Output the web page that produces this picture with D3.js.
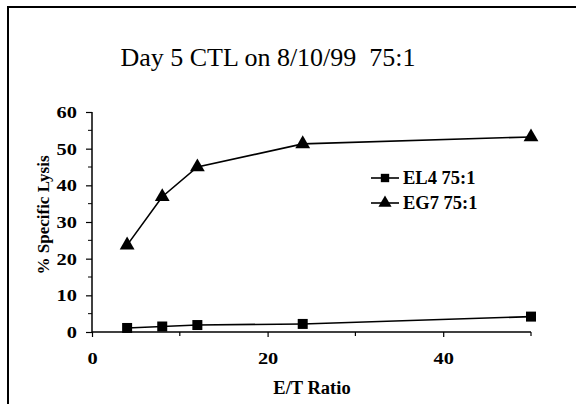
<!DOCTYPE html>
<html>
<head>
<meta charset="utf-8">
<script src="https://cdn.jsdelivr.net/npm/d3@7"></script>
<style>
  html, body { margin: 0; padding: 0; background: #fff; }
  svg { display: block; }
</style>
</head>
<body>
<svg id="chart" width="576" height="404"></svg>
<script>
const title = "Day 5 CTL on 8/10/99  75:1";
const xLabel = "E/T Ratio";
const yLabel = "% Specific Lysis";
const etRatios = [4, 8, 12, 24, 50];
const el4Values = [1.1, 1.5, 1.9, 2.2, 4.2];
const eg7Values = [23.7, 36.9, 45, 51.3, 53.2];
const seriesNames = ["EL4 75:1", "EG7 75:1"];
const xTicks = [0, 20, 40];
const xMinorTicks = [10, 30, 50];
const yTicks = [0, 10, 20, 30, 40, 50, 60];
const yMinorTicks = [5, 15, 25, 35, 45, 55];

const SERIF = "'Liberation Serif'";
const svg = d3.select("#chart");

// frame (top and left edges visible)
svg.append("line").attr("x1", 8).attr("y1", 7).attr("x2", 576).attr("y2", 7)
  .attr("stroke", "#000").attr("stroke-width", 2);
svg.append("line").attr("x1", 8).attr("y1", 6).attr("x2", 8).attr("y2", 404)
  .attr("stroke", "#000").attr("stroke-width", 2);

const x = d3.scaleLinear().domain([0, 50]).range([92, 531]);
const y = d3.scaleLinear().domain([0, 60]).range([332, 112]);

// title
svg.append("text").attr("x", 268).attr("y", 66).attr("text-anchor", "middle")
  .style("font-family", SERIF).style("font-size", "26px").style("white-space", "pre")
  .text(title);

// y axis
const yAxis = svg.append("g").attr("transform", `translate(${x(0)},0)`)
  .call(d3.axisLeft(y).tickValues(yTicks).tickSize(6).tickPadding(9).tickFormat(d3.format("d")));
yAxis.attr("font-family", null).attr("font-size", null);
yAxis.select(".domain").attr("stroke", "#000").attr("stroke-width", 1.5).attr("d", `M0,${y(60)}V${y(0)}`);
yAxis.selectAll(".tick line").attr("stroke", "#000").attr("stroke-width", 1.2);
yAxis.selectAll(".tick text").style("font-family", SERIF)
  .style("font-weight", "bold").style("font-size", "17px").attr("fill", "#000")
  .attr("transform", "translate(-15,0) scale(1.2,1) translate(15,0)");
svg.append("g").selectAll("line").data(yMinorTicks).join("line")
  .attr("x1", x(0) - 4).attr("x2", x(0)).attr("y1", d => y(d)).attr("y2", d => y(d))
  .attr("stroke", "#000").attr("stroke-width", 1);

// x axis
const xAxis = svg.append("g").attr("transform", `translate(0,${y(0)})`)
  .call(d3.axisBottom(x).tickValues(xTicks).tickSize(5).tickPadding(15).tickFormat(d3.format("d")));
xAxis.attr("font-family", null).attr("font-size", null);
xAxis.select(".domain").attr("stroke", "#000").attr("stroke-width", 1.5).attr("d", `M${x(0)},0H${x(50)}`);
xAxis.selectAll(".tick line").attr("stroke", "#000").attr("stroke-width", 1.2);
xAxis.selectAll(".tick text").style("font-family", SERIF)
  .style("font-weight", "bold").style("font-size", "17px").attr("fill", "#000")
  .attr("transform", "scale(1.2,1)");
svg.append("g").selectAll("line").data(xMinorTicks).join("line")
  .attr("x1", d => x(d)).attr("x2", d => x(d)).attr("y1", y(0)).attr("y2", y(0) + 4)
  .attr("stroke", "#000").attr("stroke-width", 1.2);

// axis titles
svg.append("text").attr("x", 312).attr("y", 394).attr("text-anchor", "middle")
  .style("font-family", SERIF).style("font-weight", "bold").style("font-size", "18.5px").text(xLabel);
svg.append("text").attr("transform", "translate(49,215) rotate(-90)").attr("text-anchor", "middle")
  .style("font-family", SERIF).style("font-weight", "bold").style("font-size", "17px").text(yLabel);

// lines
const line = d3.line().x(d => x(d[0])).y(d => y(d[1]));
const el4 = etRatios.map((e, i) => [e, el4Values[i]]);
const eg7 = etRatios.map((e, i) => [e, eg7Values[i]]);
svg.append("path").attr("d", line(el4)).attr("fill", "none").attr("stroke", "#000").attr("stroke-width", 1.6);
svg.append("path").attr("d", line(eg7)).attr("fill", "none").attr("stroke", "#000").attr("stroke-width", 1.6);

const sq = d3.symbol().type(d3.symbolSquare).size(100);
const tri = d3.symbol().type(d3.symbolTriangle).size(95);
svg.append("g").selectAll("path").data(el4).join("path")
  .attr("d", sq).attr("transform", d => `translate(${x(d[0])},${y(d[1])})`).attr("fill", "#000");
svg.append("g").selectAll("path").data(eg7).join("path")
  .attr("d", tri).attr("transform", d => `translate(${x(d[0])},${y(d[1])})`).attr("fill", "#000");

// legend
const legend = svg.append("g");
const legY = [178, 203];
const legSyms = [d3.symbol().type(d3.symbolSquare).size(70), d3.symbol().type(d3.symbolTriangle).size(75)];
legSyms.forEach((sym, i) => {
  legend.append("line").attr("x1", 371).attr("x2", 399).attr("y1", legY[i]).attr("y2", legY[i])
    .attr("stroke", "#000").attr("stroke-width", 1.6);
  legend.append("path").attr("d", sym()).attr("transform", `translate(385,${legY[i]})`).attr("fill", "#000");
  legend.append("text").attr("x", 403).attr("y", legY[i] + 6)
    .style("font-family", SERIF).style("font-weight", "bold").style("font-size", "18.5px").text(seriesNames[i]);
});
</script>
</body>
</html>
